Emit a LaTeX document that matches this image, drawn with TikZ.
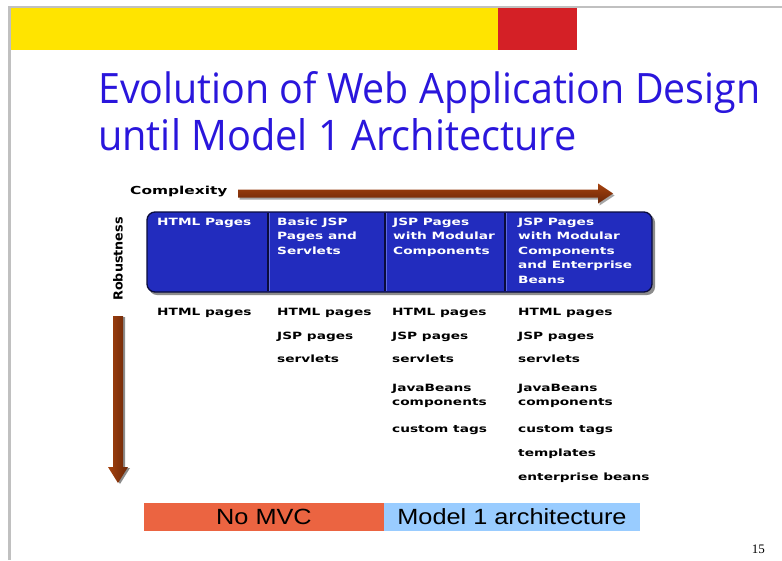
\documentclass[tikz,border=0pt]{standalone}
\usepackage{fontspec}
\usepackage{graphicx}
\setmainfont{DejaVu Sans}
\newfontfamily\titlefont{Open Sans}
\newfontfamily\barfont{Liberation Sans}
\newfontfamily\pagefont{Liberation Serif}

\definecolor{slideyellow}{RGB}{255,228,0}
\definecolor{slidered}{RGB}{212,32,38}
\definecolor{framegrey}{RGB}{192,192,192}
\definecolor{titleblue}{RGB}{42,22,220}
\definecolor{panelblue}{RGB}{34,44,190}
\definecolor{panellight}{RGB}{95,105,225}
\definecolor{paneledge}{RGB}{10,12,60}
\definecolor{arrowbrown}{RGB}{165,66,14}
\definecolor{arrowlight}{RGB}{205,108,48}
\definecolor{arrowdark}{RGB}{105,38,8}
\definecolor{nomvc}{RGB}{235,100,65}
\definecolor{modelone}{RGB}{153,204,255}

% horizontally widened text
\newcommand\hwide[2]{\scalebox{#1}[1]{#2}}
\newcommand\stack[1]{\begin{tabular}[t]{@{}l@{}}#1\end{tabular}}

\tikzset{
  headtxt/.style={anchor=base west, inner sep=0pt, text=white,
    font=\bfseries\fontsize{10}{14.5}\selectfont},
  itemtxt/.style={anchor=base west, inner sep=0pt, text=black,
    font=\bfseries\fontsize{10}{14.5}\selectfont},
  bar/.style={inner sep=0pt, minimum height=28pt, text=black,
    font=\barfont\fontsize{22}{24}\selectfont},
  titletxt/.style={anchor=base west, inner sep=0pt, text=titleblue}
}

\begin{document}
\begin{tikzpicture}[x=1pt,y=-1pt]
\useasboundingbox (0,0) rectangle (782,560);
\fill[white] (0,0) rectangle (782,560);

% slide frame and header bars
\draw[framegrey, line width=2.5pt] (9.5,560) -- (9.5,7) -- (782,7);
\fill[slideyellow] (10.8,8.3) rectangle (498,49.5);
\fill[slidered] (498,8.3) rectangle (577,49.5);

% title
\node[titletxt] (title1) at (98,103)
  {\resizebox{662pt}{32pt}{\titlefont Evolution of Web Application Design}};
\node[titletxt] (title2) at (98,150)
  {\resizebox{478pt}{32pt}{\titlefont until Model 1 Architecture}};

% complexity axis
\node[anchor=west, inner sep=0pt, font=\bfseries\fontsize{11}{12}\selectfont]
  (cplx) at (130,192) {\hwide{1.4}{Complexity}};
\coordinate (cstart) at (238,193.5);
\coordinate (cend) at (613,193.5);
\fill[black!35] ([shift={(1.5,2)}]cstart) ++(0,-4) -- ++(360,0) -- ++(0,-6)
  -- ([shift={(1.5,2)}]cend) -- ++(-15,10) -- ++(0,-6) -- ++(-360,0) -- cycle;
\shade[top color=arrowbrown, middle color=arrowlight, bottom color=arrowdark]
  (cstart) ++(0,-4) -- ++(360,0) -- ++(0,-6) -- (cend) -- ++(-15,10)
  -- ++(0,-6) -- ++(-360,0) -- cycle;

% robustness axis
\node[rotate=90, inner sep=0pt, font=\bfseries\fontsize{12.5}{14}\selectfont]
  (rob) at (118,259) {\hwide{1.02}{Robustness}};
\coordinate (rstart) at (118,316);
\coordinate (rend) at (118,483);
\fill[black!45] ([shift={(2,1)}]rstart) ++(-5,0) -- ++(10,0) -- ++(0,151) -- ++(5,0)
  -- ([shift={(2,1)}]rend) -- ++(-10,-16) -- ++(5,0) -- cycle;
\shade[left color=arrowbrown, right color=arrowdark]
  (rstart) ++(-5,0) -- ++(10,0) -- ++(0,151) -- ++(5,0) -- (rend)
  -- ++(-10,-16) -- ++(5,0) -- cycle;

% header panel
\fill[black!45, rounded corners=8pt] (149,214.5) rectangle (655,295);
\fill[panelblue, rounded corners=8pt] (147,212) rectangle (652,292);
\draw[paneledge, line width=1.3pt, rounded corners=8pt] (147,212) rectangle (652,292);
\foreach \dx in {268,385,505}{
  \draw[paneledge, line width=2pt] (\dx,213) -- (\dx,291);
  \draw[panellight, line width=0.8pt] (\dx+1.8,213) -- (\dx+1.8,291);
}

% column headings
\node[headtxt] (h1) at (157,225) {\hwide{1.37}{HTML Pages}};
\node[headtxt] (h2) at (277,225) {\hwide{1.37}{\stack{Basic JSP\\Pages and\\Servlets}}};
\node[headtxt] (h3) at (393,225) {\hwide{1.37}{\stack{JSP Pages\\with Modular\\Components}}};
\node[headtxt] (h4) at (518,225) {\hwide{1.37}{\stack{JSP Pages\\with Modular\\Components\\and Enterprise\\Beans}}};

% column contents
\node[itemtxt] (a1) at (157,315) {\hwide{1.37}{HTML pages}};

\node[itemtxt] (b1) at (277,315) {\hwide{1.37}{HTML pages}};
\node[itemtxt] (b2) at (277,339) {\hwide{1.37}{JSP pages}};
\node[itemtxt] (b3) at (277,362) {\hwide{1.37}{servlets}};

\node[itemtxt] (c1) at (392,315) {\hwide{1.37}{HTML pages}};
\node[itemtxt] (c2) at (392,339) {\hwide{1.37}{JSP pages}};
\node[itemtxt] (c3) at (392,362) {\hwide{1.37}{servlets}};
\node[itemtxt] (c4) at (392,391) {\hwide{1.37}{\stack{JavaBeans\\components}}};
\node[itemtxt] (c5) at (392,432) {\hwide{1.37}{custom tags}};

\node[itemtxt] (d1) at (518,315) {\hwide{1.37}{HTML pages}};
\node[itemtxt] (d2) at (518,339) {\hwide{1.37}{JSP pages}};
\node[itemtxt] (d3) at (518,362) {\hwide{1.37}{servlets}};
\node[itemtxt] (d4) at (518,391) {\hwide{1.37}{\stack{JavaBeans\\components}}};
\node[itemtxt] (d5) at (518,432) {\hwide{1.37}{custom tags}};
\node[itemtxt] (d6) at (518,456) {\hwide{1.37}{templates}};
\node[itemtxt] (d7) at (518,480) {\hwide{1.37}{enterprise beans}};

% architecture bands
\node[bar, fill=nomvc, minimum width=240pt] (nomvc) at (264,517) {\hwide{1.15}{No MVC}};
\node[bar, fill=modelone, minimum width=256pt] (model1) at (512,517) {\hwide{1.15}{Model 1 architecture}};

% page number
\node[anchor=east, inner sep=0pt, font=\pagefont\fontsize{13}{14}\selectfont] (pg) at (765,549) {15};
\end{tikzpicture}
\end{document}
